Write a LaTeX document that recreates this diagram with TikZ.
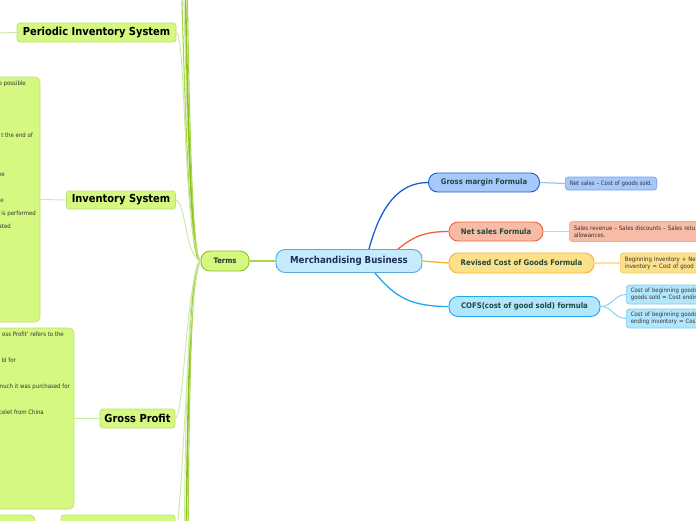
\documentclass[tikz,border=0pt]{standalone}
\usepackage{fontspec}
\setmainfont{DejaVu Sans}[FakeStretch=0.9]
\usetikzlibrary{calc}
\definecolor{gfill}{HTML}{D4F880}
\definecolor{gdraw}{HTML}{BDE46E}
\definecolor{tdraw}{HTML}{8CC21E}
\definecolor{gline}{HTML}{CBE8A2}
\definecolor{gdark}{HTML}{8DC21C}
\definecolor{gmid}{HTML}{A9D54C}
\definecolor{mfill}{HTML}{C6EBFC}
\definecolor{mdraw}{HTML}{5BA8DA}
\definecolor{mtext}{HTML}{1C2E5C}
\definecolor{rtext}{HTML}{1E4A3C}
\definecolor{bfill}{HTML}{A6C8FB}
\definecolor{bdraw}{HTML}{1B5FD0}
\definecolor{bnote}{HTML}{78A4EC}
\definecolor{rfill}{HTML}{F8BBA6}
\definecolor{rdraw}{HTML}{F0623B}
\definecolor{rnote}{HTML}{F2A890}
\definecolor{yfill}{HTML}{FDE08A}
\definecolor{ydraw}{HTML}{F7B528}
\definecolor{ynote}{HTML}{F8CC60}
\definecolor{cfill}{HTML}{B2E6FC}
\definecolor{cdraw}{HTML}{1FA8EC}
\definecolor{cnote}{HTML}{7FCDF3}
\definecolor{ntext}{HTML}{333333}
\definecolor{termtext}{HTML}{1E3C1E}
\tikzset{
  bignode/.style={draw=gdraw, fill=gfill, line width=0.8pt, rounded corners=3pt, inner sep=0pt,
    font=\bfseries\fontsize{11}{13}\selectfont, text=black},
  gnote/.style={draw=gdraw, fill=gfill, line width=0.8pt, rounded corners=5pt, inner sep=0pt},
  fragtext/.style={font=\fontsize{6}{6.8}\selectfont, text=ntext, inner sep=0pt},
  pill/.style={line width=0.9pt, rounded corners=9pt, inner sep=0pt,
    font=\bfseries\fontsize{7.7}{9}\selectfont, text=rtext},
  rnotestyle/.style={line width=0.7pt, rounded corners=3pt, inner xsep=4.5pt, inner ysep=0pt,
    font=\fontsize{6}{6.8}\selectfont, text=ntext, align=left},
  strandthin/.style={draw=gline, line width=0.9pt},
  stranddark/.style={draw=gdark, line width=1.6pt},
  strandmid/.style={draw=gmid, line width=1.1pt},
}
\begin{document}
\begin{tikzpicture}[x=1pt, y=-1pt]
\useasboundingbox (0,0) rectangle (696,520);
\clip (0,0) rectangle (696,520);
\fill[white] (0,0) rectangle (696,520);

% ---------- left side ----------
\node[bignode, minimum width=159pt, minimum height=19pt] (per) at (96.5,32.5) {Periodic Inventory System};
\coordinate (perleft) at (-5,33);
\node[bignode, minimum width=109pt, minimum height=18pt] (inv) at (121,200) {Inventory System};
\node[bignode, minimum width=75pt, minimum height=19pt] (gp) at (137.5,418.5) {Gross Profit};

\node[gnote, minimum width=140pt, minimum height=245pt] (invnote) at (-30,199.5) {};
\node[gnote, minimum width=174pt, minimum height=181pt] (gpnote) at (-13,418.5) {};
\node[gnote, minimum width=85pt, minimum height=40pt] (botnote1) at (-7.5,535) {};
\node[bignode, minimum width=114pt, minimum height=40pt] (botnode) at (118,535) {};

% fragments
\node[fragtext, anchor=base east] (f1) at (26,85) {o possible};
\node[fragtext, anchor=base east] (f2) at (33,137) {t the end of};
\node[fragtext, anchor=base east] (f3) at (5,176) {ve};
\node[fragtext, anchor=base east] (f4) at (4,202) {e};
\node[fragtext, anchor=base east] (f5) at (36,215) {is performed};
\node[fragtext, anchor=base east] (f6) at (11,228) {ated};
\node[fragtext, anchor=base east] (g1) at (64,336) {oss Profit' refers to the};
\node[fragtext, anchor=base east] (g2) at (16,362) {ld for};
\node[fragtext, anchor=base east] (g3) at (70,388) {nuch it was purchased for};
\node[fragtext, anchor=base east] (g4) at (44,414) {celet from China};

\draw[strandthin] (perleft) -- (per.west);
\draw[strandthin] (invnote.east) -- (inv.west);
\draw[strandthin] (gpnote.east) -- (gp.west);

% ---------- center ----------
\node[pill, draw=tdraw, fill=gfill, minimum width=48pt, minimum height=20pt,
  font=\bfseries\fontsize{7.6}{9}\selectfont, text=termtext] (terms) at (225,261) {Terms};
\node[pill, draw=mdraw, fill=mfill, minimum width=146pt, minimum height=23pt, rounded corners=9pt,
  font=\bfseries\fontsize{9.6}{11}\selectfont, text=mtext] (merch) at (349,261) {Merchandising Business};

% strands to the left
\coordinate (t1) at (181,-30);
\coordinate (t2) at (183,-30);
\coordinate (t3) at (185,-30);
\coordinate (t4) at (187,-30);
\coordinate (b1) at (184,560);
\coordinate (b2) at (186,560);
\coordinate (b3) at (188,560);
\coordinate (botend) at (175,535);

\draw[strandmid] (terms.west) .. controls (191,258) and (187,180) .. (t1);
\draw[strandthin] (terms.west) .. controls (192,258) and (188,170) .. (t2);
\draw[stranddark] (terms.west) .. controls (193,258) and (189,190) .. (t3);
\draw[strandmid] (terms.west) .. controls (194,258) and (190,180) .. (t4);
\draw[stranddark] (terms.west) .. controls (192,265) and (188,340) .. (b2);
\draw[strandmid] (terms.west) .. controls (193,265) and (189,340) .. (b3);
\draw[strandthin] (terms.west) .. controls (191,265) and (186,340) .. (b1);

\draw[strandthin] (per.east) .. controls (186,34) and (183,235) .. (terms.west);
\draw[strandthin] (inv.east) .. controls (186,202) and (185,256) .. (terms.west);
\draw[strandthin] (gp.east) .. controls (184,416) and (186,280) .. (terms.west);
\draw[strandthin] (botend) .. controls (183,520) and (187,290) .. (terms.west);

\draw[draw=gmid, line width=1.3pt] (terms.east) -- (merch.west);

% ---------- right side ----------
\node[pill, draw=bdraw, fill=bfill, minimum width=111pt, minimum height=19pt] (gm) at (484,182.5) {Gross margin Formula};
\node[pill, draw=rdraw, fill=rfill, minimum width=94pt, minimum height=19pt] (ns) at (496,231.5) {Net sales Formula};
\node[pill, draw=ydraw, fill=yfill, minimum width=145pt, minimum height=20pt] (rev) at (521.5,263) {Revised Cost of Goods Formula};
\node[pill, draw=cdraw, fill=cfill, minimum width=151pt, minimum height=20pt] (cofs) at (524.5,306.5) {COFS(cost of good sold) formula};

\draw[draw=bdraw, line width=1.3pt] ($(merch.north)+(20,0)$) .. controls +(12,-45) and +(-28,0) .. (gm.west);
\draw[draw=rdraw, line width=1.3pt] ($(merch.north)+(49,0)$) .. controls +(15,-12) and +(-25,0) .. (ns.west);
\draw[draw=ydraw, line width=1.3pt] (merch.east) -- (rev.west);
\draw[draw=cdraw, line width=1.3pt] ($(merch.south)+(26,0)$) .. controls +(20,24) and +(-38,0) .. (cofs.west);

\node[rnotestyle, draw=bnote, fill=bfill, minimum height=13pt, anchor=west] (gmn) at (565,183.5) {Net sales – Cost of goods sold.};
\node[rnotestyle, draw=rnote, fill=rfill, minimum height=20pt, text width=130pt, anchor=west] (nsn) at (569,231.5) {Sales revenue – Sales discounts – Sales retu\\allowances.};
\node[rnotestyle, draw=ynote, fill=yfill, minimum height=20pt, text width=90pt, anchor=west] (revn) at (620,263) {Beginning Inventory + Ne\\inventory = Cost of good};
\node[rnotestyle, draw=cnote, fill=cfill, minimum height=19pt, text width=90pt, anchor=west] (cn1) at (626,294.5) {Cost of beginning goods\\goods sold = Cost endin};
\node[rnotestyle, draw=cnote, fill=cfill, minimum height=19pt, text width=90pt, anchor=west] (cn2) at (626,318.5) {Cost of beginning goods\\ending inventory = Cos};

\draw[draw=bnote!70!white, line width=1.2pt] (gm.east) -- (gmn.west);
\draw[draw=rnote!70!white, line width=1.2pt] (ns.east) -- (nsn.west);
\draw[draw=ynote!60!white, line width=1.2pt] (rev.east) -- (revn.west);
\draw[draw=cnote, line width=0.9pt] (cofs.east) .. controls +(12,0) and +(-12,0) .. (cn1.west);
\draw[draw=cnote, line width=0.9pt] (cofs.east) .. controls +(12,0) and +(-12,0) .. (cn2.west);
\end{tikzpicture}
\end{document}
